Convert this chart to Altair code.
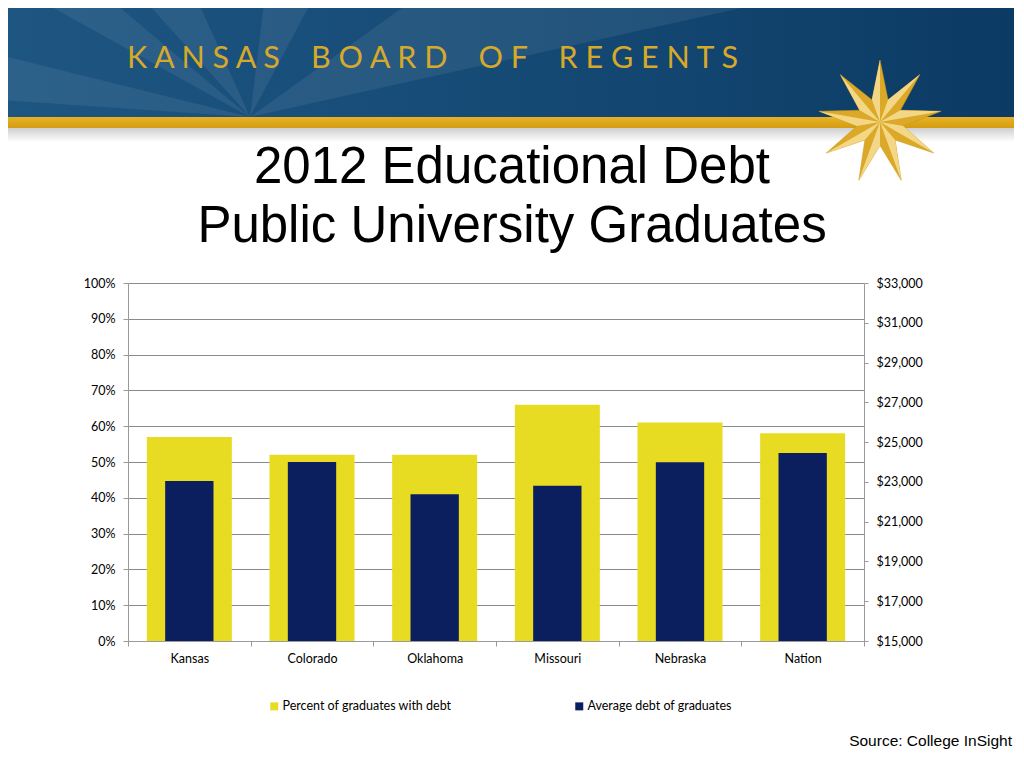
import math
import altair as alt
import pandas as pd

# ---------------- data ----------------
states = ["Kansas", "Colorado", "Oklahoma", "Missouri", "Nebraska", "Nation"]
pct_with_debt = [0.57, 0.52, 0.52, 0.66, 0.61, 0.58]
avg_debt = [23050, 24000, 22380, 22800, 23990, 24450]

pct_ticks = [i / 10 for i in range(11)]
debt_ticks = list(range(15000, 33001, 2000))

series_names = ["Percent of graduates with debt", "Average debt of graduates"]
series_colors = ["#e8dc22", "#0b1f5e"]

title_lines = ["2012 Educational Debt", "Public University Graduates"]
header_words = ["KANSAS", "BOARD", "OF", "REGENTS"]
source_text = "Source: College InSight"

df = pd.DataFrame({"state": states, "pct": pct_with_debt, "debt": avg_debt})
one = pd.DataFrame({"k": [0]})

# page -> plot coordinates (plot origin at page 128, 283)
def PX(x):
    return x - 128

def PY(y):
    return y - 283

FONT = "Lato"
NB = "\u00a0"
header_text = (NB * 4).join(NB.join(list(w)) for w in header_words)

# ---------------- decorative header ----------------
banner = alt.Chart(one).mark_rect(
    color=alt.LinearGradient(
        gradient="linear", x1=0, x2=1, y1=0, y2=0,
        stops=[alt.GradientStop(color="#1e5682", offset=0),
               alt.GradientStop(color="#154a75", offset=0.5),
               alt.GradientStop(color="#0b3a63", offset=1)])
).encode(x=alt.value(-140), x2=alt.value(910), y=alt.value(-300), y2=alt.value(PY(117)))

# light rays (custom path, unit = 100px)
conv = (250, 117)
ray_far = [
    [(0, 55), (0, 100)],
    [(30, -5), (105, -5)],
    [(140, -5), (195, -5)],
    [(265, -5), (315, -5)],
    [(420, -5), (800, -5)],
]
parts = []
for a, b in ray_far:
    ax, ay = (a[0] - conv[0]) / 100, (a[1] - conv[1]) / 100
    bx, by = (b[0] - conv[0]) / 100, (b[1] - conv[1]) / 100
    parts.append(f"M0,0L{ax:.3f},{ay:.3f}L{bx:.3f},{by:.3f}Z")
ray_path = "".join(parts)
rays = alt.Chart(one).mark_point(
    shape=ray_path, filled=True, fill="#ffffff", opacity=0.07, size=40000, strokeWidth=0
).encode(x=alt.value(PX(conv[0])), y=alt.value(PY(conv[1])))

stripe = alt.Chart(one).mark_rect(
    color=alt.LinearGradient(
        gradient="linear", x1=0, x2=0, y1=0, y2=1,
        stops=[alt.GradientStop(color="#e6b224", offset=0),
               alt.GradientStop(color="#d49c12", offset=1)])
).encode(x=alt.value(-140), x2=alt.value(910), y=alt.value(PY(117)), y2=alt.value(PY(128)))

shadow = alt.Chart(one).mark_rect(
    color=alt.LinearGradient(
        gradient="linear", x1=0, x2=0, y1=0, y2=1,
        stops=[alt.GradientStop(color="#cfcfcf", offset=0),
               alt.GradientStop(color="#ffffff", offset=1)])
).encode(x=alt.value(-140), x2=alt.value(910), y=alt.value(PY(128)), y2=alt.value(PY(142)))

# nine-pointed star
n_pts = 9
r_in = 0.38
tips, inner = [], []
for i in range(n_pts):
    th = math.radians(90 - i * 360 / n_pts)
    tips.append((math.cos(th), -math.sin(th)))
    th2 = th - math.radians(180 / n_pts)
    inner.append((r_in * math.cos(th2), -r_in * math.sin(th2)))
star_full = "M" + "L".join(
    f"{tips[i][0]:.3f},{tips[i][1]:.3f}L{inner[i][0]:.3f},{inner[i][1]:.3f}" for i in range(n_pts)) + "Z"
star_light = "".join(
    f"M0,0L{tips[i][0]:.3f},{tips[i][1]:.3f}L{inner[i - 1][0]:.3f},{inner[i - 1][1]:.3f}Z" for i in range(n_pts))
star_c = (880, 122)
star_size = 124 ** 2
star1 = alt.Chart(one).mark_point(
    shape=star_full, filled=True, fill="#dba927", size=star_size, strokeWidth=0.5, stroke="#c8951a", opacity=1
).encode(x=alt.value(PX(star_c[0])), y=alt.value(PY(star_c[1])))
star2 = alt.Chart(one).mark_point(
    shape=star_light, filled=True, fill="#f3d787", size=star_size, strokeWidth=0, opacity=1
).encode(x=alt.value(PX(star_c[0])), y=alt.value(PY(star_c[1])))

header = alt.Chart(one).mark_text(
    text=header_text, font=FONT, fontSize=30.5, color="#d7a92b", align="left", baseline="alphabetic"
).encode(x=alt.value(PX(127)), y=alt.value(PY(68)))

title1 = alt.Chart(one).mark_text(
    text=title_lines[0], font="Liberation Sans", fontSize=51, color="#000000",
    align="center", baseline="alphabetic"
).encode(x=alt.value(PX(512)), y=alt.value(PY(183)))
title2 = alt.Chart(one).mark_text(
    text=title_lines[1], font="Liberation Sans", fontSize=51, color="#000000",
    align="center", baseline="alphabetic"
).encode(x=alt.value(PX(512)), y=alt.value(PY(242)))

source = alt.Chart(one).mark_text(
    text=source_text, font="Liberation Sans", fontSize=15.5, color="#000000",
    align="right", baseline="alphabetic"
).encode(x=alt.value(PX(1012)), y=alt.value(PY(746)))

# ---------------- bars ----------------
xenc = alt.X("state:N", sort=states,
             scale=alt.Scale(paddingInner=0, paddingOuter=0),
             axis=alt.Axis(title=None, labelAngle=0, tickBand="extent", tickSize=5,
                           labelPadding=6, labelFontSize=12.5, labelFont=FONT,
                           labelColor="#000000", domainColor="#9a9a9a", tickColor="#9a9a9a"))

base = alt.Chart(df)

color_scale = alt.Scale(domain=series_names, range=series_colors)
legend = alt.Legend(title=None, orient="none", direction="horizontal",
                    legendX=140, legendY=417, symbolType="square",
                    symbolSize=64, symbolStrokeWidth=0, labelFont=FONT,
                    labelFontSize=12.5, labelColor="#000000", labelLimit=400,
                    columnPadding=121, labelOffset=2)

yellow = base.transform_calculate(series=f"'{series_names[0]}'").mark_bar(
    width=alt.RelativeBandSize(0.693)
).encode(
    x=xenc,
    y=alt.Y("pct:Q", scale=alt.Scale(domain=[0, 1], nice=False),
            axis=alt.Axis(orient="left", title=None, values=pct_ticks, format=".0%",
                          grid=True, gridColor="#8a8a8a", gridWidth=1,
                          tickSize=5, labelPadding=8, labelFontSize=12.5, labelFont=FONT,
                          labelColor="#000000", domainColor="#9a9a9a", tickColor="#9a9a9a")),
    color=alt.Color("series:N", scale=color_scale, legend=legend),
)

blue = base.transform_calculate(series=f"'{series_names[1]}'").mark_bar(
    width=alt.RelativeBandSize(0.394)
).encode(
    x=xenc,
    y=alt.Y("debt:Q", scale=alt.Scale(domain=[15000, 33000], zero=False, nice=False),
            axis=alt.Axis(orient="right", title=None, values=debt_ticks, format="$,.0f",
                          grid=False, tickSize=4, labelPadding=8, labelFontSize=12.5,
                          labelFont=FONT, labelColor="#000000",
                          domainColor="#9a9a9a", tickColor="#9a9a9a")),
    y2=alt.datum(15000),
    color=alt.Color("series:N", scale=color_scale, legend=legend),
)

chart = alt.layer(
    banner, rays, stripe, shadow, star1, star2, header, title1, title2, source, yellow, blue
).resolve_scale(y="independent").properties(
    width=736, height=358,
    autosize=alt.AutoSizeParams(type="none"),
    padding={"left": 120, "top": 275, "right": 150, "bottom": 120},
).configure_view(stroke=None)

chart.save("out.html", embed_options={"renderer": "svg", "actions": False})
